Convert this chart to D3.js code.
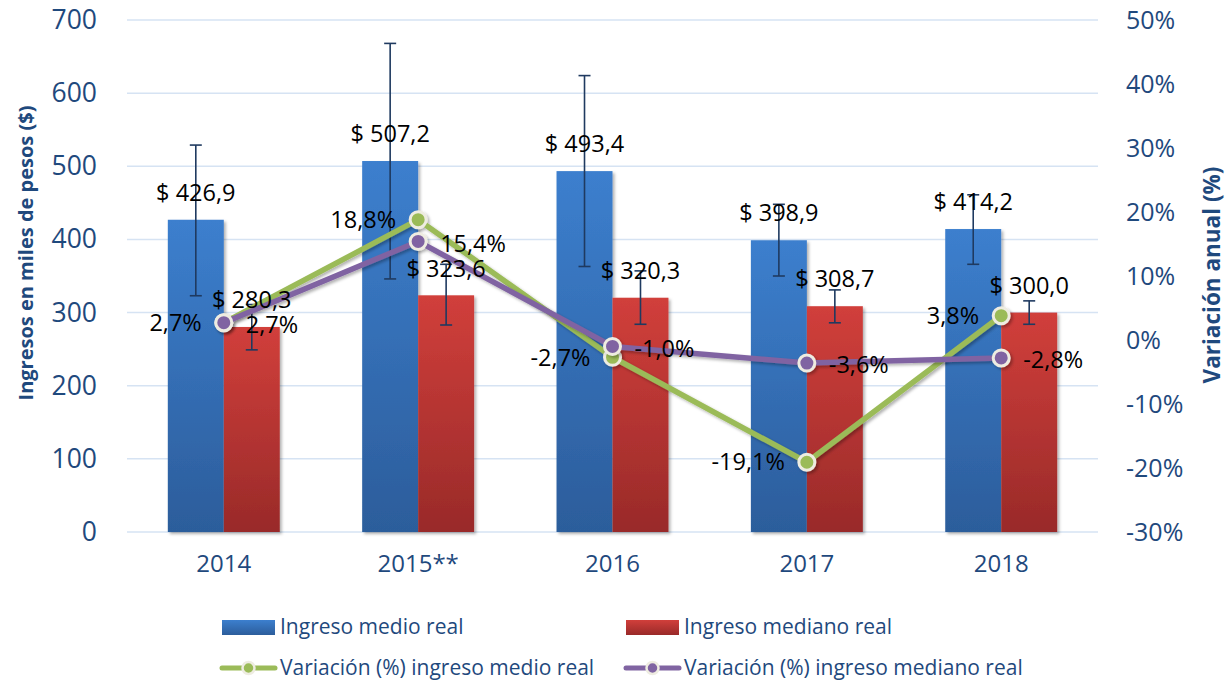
<!DOCTYPE html>
<html>
<head>
<meta charset="utf-8">
<script src="https://cdn.jsdelivr.net/npm/d3@7"></script>
<style>
  body { margin: 0; background: #fff; }
  svg { font-family: "Open Sans", sans-serif; }
</style>
</head>
<body>
<svg width="1228" height="685"></svg>
<script>
// data
const categories = ['2014', '2015**', '2016', '2017', '2018']
const ingresoMedio = [426.9, 507.2, 493.4, 398.9, 414.2]
const ingresoMediano = [280.3, 323.6, 320.3, 308.7, 300.0]
// error bar ends (estimated)
const medioLow = [323, 346, 363, 350, 366]
const medioHigh = [529, 668, 624, 448, 461]
const medianoLow = [249, 283, 284, 286, 284]
const medianoHigh = [311, 366, 357, 331, 316]
// annual variation (%)
const varMedio = [2.7, 18.8, -2.7, -19.1, 3.8]
const varMediano = [2.7, 15.4, -1.0, -3.6, -2.8]
const leftTicks = [0, 100, 200, 300, 400, 500, 600, 700]
const rightTicks = [-30, -20, -10, 0, 10, 20, 30, 40, 50]

const axisColor = '#1F497D'
const green = '#9BBB59', purple = '#8064A2'

const loc = d3.formatLocale({ decimal: ',', thousands: '.', grouping: [3], currency: ['$ ', ''], minus: '-' })
const fmt1 = loc.format('.1f')
const fmtMoney = loc.format('$.1f')

var svg = d3.select('svg')
var defs = svg.append('defs')

function grad(id, top, bottom) {
    var g = defs.append('linearGradient').attr('id', id)
        .attr('x1', 0).attr('y1', 0).attr('x2', 0).attr('y2', 1)
    g.append('stop').attr('offset', '0%').attr('stop-color', top)
    g.append('stop').attr('offset', '100%').attr('stop-color', bottom)
}
grad('gBlue', '#3C7FCE', '#2C5D9B')
grad('gRed', '#D13F3B', '#992A29')

var sh = defs.append('filter').attr('id', 'shadow')
    .attr('x', '-20%').attr('y', '-20%').attr('width', '140%').attr('height', '140%')
sh.append('feDropShadow').attr('dx', 2).attr('dy', 2).attr('stdDeviation', 1.5)
    .attr('flood-color', '#000').attr('flood-opacity', 0.3)

var x = d3.scaleBand().domain(categories).range([127, 1098]).paddingInner(0.424).paddingOuter(0.21)
var xSub = d3.scaleBand().domain(['medio', 'mediano']).range([0, x.bandwidth()])
var yL = d3.scaleLinear().domain([0, 700]).range([532, 20])
var yR = d3.scaleLinear().domain([-30, 50]).range([532, 20])
var cx = c => x(c) + x.bandwidth() / 2

// gridlines
svg.append('g').selectAll('line').data(leftTicks).enter().append('line')
    .attr('x1', 127).attr('x2', 1098)
    .attr('y1', d => yL(d)).attr('y2', d => yL(d))
    .attr('stroke', '#D6E3F3').attr('stroke-width', 1.5)

// axes
var axL = svg.append('g').attr('transform', 'translate(97,0)')
    .call(d3.axisLeft(yL).tickValues(leftTicks).tickSize(0).tickPadding(0))
var axR = svg.append('g').attr('transform', 'translate(1126,0)')
    .call(d3.axisRight(yR).tickValues(rightTicks).tickSize(0).tickPadding(0)
        .tickFormat(d => d + '%'))
var axX = svg.append('g').attr('transform', 'translate(0,559)')
    .call(d3.axisBottom(x).tickSize(0).tickPadding(0))
;[axL, axR, axX].forEach(a => {
    a.select('.domain').remove()
    a.selectAll('text').attr('fill', axisColor).style('font-family', '"Open Sans", sans-serif')
})
axL.selectAll('text').style('font-size', '26.5px')
axR.selectAll('text').style('font-size', '25px')
axX.selectAll('text').style('font-size', '24px').attr('dy', '0.55em')

// axis titles
svg.append('text').attr('transform', 'translate(33,253) rotate(-90)')
    .attr('text-anchor', 'middle').attr('fill', axisColor)
    .style('font-size', '20px').style('font-weight', 'bold')
    .text('Ingresos en miles de pesos ($)')
svg.append('text').attr('transform', 'translate(1220,275) rotate(-90)')
    .attr('text-anchor', 'middle').attr('fill', axisColor)
    .style('font-size', '22.5px').style('font-weight', 'bold')
    .text('Variación anual (%)')

// bars
var bars = svg.append('g').attr('filter', 'url(#shadow)')
bars.selectAll('rect.medio').data(categories).enter().append('rect')
    .attr('x', d => x(d) + xSub('medio')).attr('width', xSub.bandwidth())
    .attr('y', (d, i) => yL(ingresoMedio[i])).attr('height', (d, i) => yL(0) - yL(ingresoMedio[i]))
    .attr('fill', 'url(#gBlue)')
bars.selectAll('rect.mediano').data(categories).enter().append('rect')
    .attr('x', d => x(d) + xSub('mediano')).attr('width', xSub.bandwidth())
    .attr('y', (d, i) => yL(ingresoMediano[i])).attr('height', (d, i) => yL(0) - yL(ingresoMediano[i]))
    .attr('fill', 'url(#gRed)')

// error bars
function errBars(key, low, high) {
    var g = svg.append('g').attr('stroke', '#1F3A60').attr('stroke-width', 1.6)
    categories.forEach((c, i) => {
        var ex = x(c) + xSub(key) + xSub.bandwidth() / 2
        g.append('line').attr('x1', ex).attr('x2', ex).attr('y1', yL(low[i])).attr('y2', yL(high[i]))
        g.append('line').attr('x1', ex - 6).attr('x2', ex + 6).attr('y1', yL(low[i])).attr('y2', yL(low[i]))
        g.append('line').attr('x1', ex - 6).attr('x2', ex + 6).attr('y1', yL(high[i])).attr('y2', yL(high[i]))
    })
}
errBars('medio', medioLow, medioHigh)
errBars('mediano', medianoLow, medianoHigh)

// lines
function drawLine(vals, color) {
    var line = d3.line().x((d, i) => cx(categories[i])).y(d => yR(d))
    var g = svg.append('g').attr('filter', 'url(#shadow)')
    g.append('path').datum(vals).attr('d', line)
        .attr('fill', 'none').attr('stroke', color).attr('stroke-width', 5.5)
        .attr('stroke-linejoin', 'round')
    g.selectAll('circle').data(vals).enter().append('circle')
        .attr('cx', (d, i) => cx(categories[i])).attr('cy', d => yR(d))
        .attr('r', 8).attr('fill', color).attr('stroke', '#EEECE1').attr('stroke-width', 3)
}
drawLine(varMedio, green)
drawLine(varMediano, purple)

// data labels
var lbl = svg.append('g').style('font-size', '23.5px').attr('fill', '#000')
categories.forEach((c, i) => {
    lbl.append('text').attr('x', x(c) + xSub('medio') + xSub.bandwidth() / 2)
        .attr('y', yL(ingresoMedio[i]) - 27).attr('dy', '0.35em').attr('text-anchor', 'middle')
        .text(fmtMoney(ingresoMedio[i]))
    lbl.append('text').attr('x', x(c) + xSub('mediano') + xSub.bandwidth() / 2)
        .attr('y', yL(ingresoMediano[i]) - 27).attr('dy', '0.35em').attr('text-anchor', 'middle')
        .text(fmtMoney(ingresoMediano[i]))
    lbl.append('text').attr('x', cx(c) - 22).attr('y', yR(varMedio[i])).attr('dy', '0.35em')
        .attr('text-anchor', 'end').text(fmt1(varMedio[i]) + '%')
    lbl.append('text').attr('x', cx(c) + 22).attr('y', yR(varMediano[i]) + 2).attr('dy', '0.35em')
        .attr('text-anchor', 'start').text(fmt1(varMediano[i]) + '%')
})

// legend
var legendItems = [
    { name: 'Ingreso medio real', type: 'bar', fill: 'url(#gBlue)', x: 222, y: 627 },
    { name: 'Ingreso mediano real', type: 'bar', fill: 'url(#gRed)', x: 626, y: 627 },
    { name: 'Variación (%) ingreso medio real', type: 'line', fill: green, x: 222, y: 668 },
    { name: 'Variación (%) ingreso mediano real', type: 'line', fill: purple, x: 626, y: 668 }
]
var leg = svg.append('g')
legendItems.forEach(d => {
    if (d.type === 'bar') {
        leg.append('rect').attr('x', d.x).attr('y', d.y - 7).attr('width', 53).attr('height', 15).attr('fill', d.fill)
    } else {
        leg.append('line').attr('x1', d.x).attr('x2', d.x + 53).attr('y1', d.y).attr('y2', d.y)
            .attr('stroke', d.fill).attr('stroke-width', 5).attr('stroke-linecap', 'round')
        leg.append('circle').attr('cx', d.x + 26.5).attr('cy', d.y).attr('r', 6)
            .attr('fill', d.fill).attr('stroke', '#EEECE1').attr('stroke-width', 2.5)
    }
    leg.append('text').attr('x', d.x + 58).attr('y', d.y).attr('dy', '0.35em')
        .attr('fill', axisColor).style('font-size', '21px').text(d.name)
})
</script>
</body>
</html>
